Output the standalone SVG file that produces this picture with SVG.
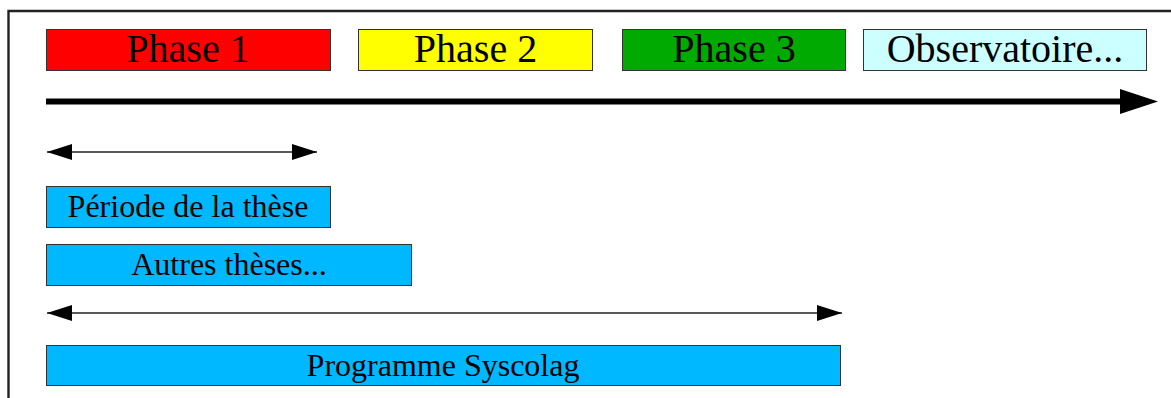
<svg xmlns="http://www.w3.org/2000/svg" width="1171" height="398" viewBox="0 0 1171 398">
<style>
.box{stroke:#333;stroke-width:1}
.t{font-family:"Liberation Serif","Times New Roman",serif;fill:#000;text-anchor:middle}
.big{font-size:40px}
.small{font-size:32px}
.bar{fill:#00b8ff}
</style>
<defs>
<marker id="ah" viewBox="0 0 25 16" refX="25" refY="8" markerWidth="25" markerHeight="16" markerUnits="userSpaceOnUse" orient="auto-start-reverse">
<path d="M0,0 L25,8 L0,16 Z" fill="#000"/>
</marker>
</defs>
<rect width="1171" height="398" fill="#fff"/>
<path d="M8.5,398 V11 H1171" fill="none" stroke="#222" stroke-width="2.4"/>
<g id="phase1"><rect class="box" x="46.5" y="29.5" width="284" height="41" fill="#ff0000"/><text class="t big" x="188" y="62">Phase 1</text></g>
<g id="phase2"><rect class="box" x="358.5" y="29.5" width="234" height="41" fill="#ffff00"/><text class="t big" x="475.5" y="62">Phase 2</text></g>
<g id="phase3"><rect class="box" x="622.5" y="29.5" width="223" height="41" fill="#00aa00"/><text class="t big" x="734" y="62">Phase 3</text></g>
<g id="observatoire"><rect class="box" x="863.5" y="29.5" width="283" height="41" fill="#ccffff"/><text class="t big" x="1005" y="62">Observatoire...</text></g>
<g id="periode"><rect class="box bar" x="46.5" y="186.5" width="284" height="41"/><text class="t small" x="188" y="217">Période de la thèse</text></g>
<g id="autres"><rect class="box bar" x="46.5" y="244.5" width="365" height="41"/><text class="t small" x="229" y="275">Autres thèses...</text></g>
<g id="programme"><rect class="box bar" x="46.5" y="345.5" width="794" height="40"/><text class="t small" x="443" y="376">Programme Syscolag</text></g>
<g id="connectors">
<line x1="46" y1="101.5" x2="1122" y2="101.5" stroke="#000" stroke-width="6"/>
<path d="M1120,89 L1158,101.5 L1120,114 Z" fill="#000"/>
<line x1="47" y1="152" x2="317" y2="152" stroke="#222" stroke-width="1.5" marker-start="url(#ah)" marker-end="url(#ah)"/>
<line x1="47" y1="313" x2="842" y2="313" stroke="#222" stroke-width="1.5" marker-start="url(#ah)" marker-end="url(#ah)"/>
</g>
</svg>
